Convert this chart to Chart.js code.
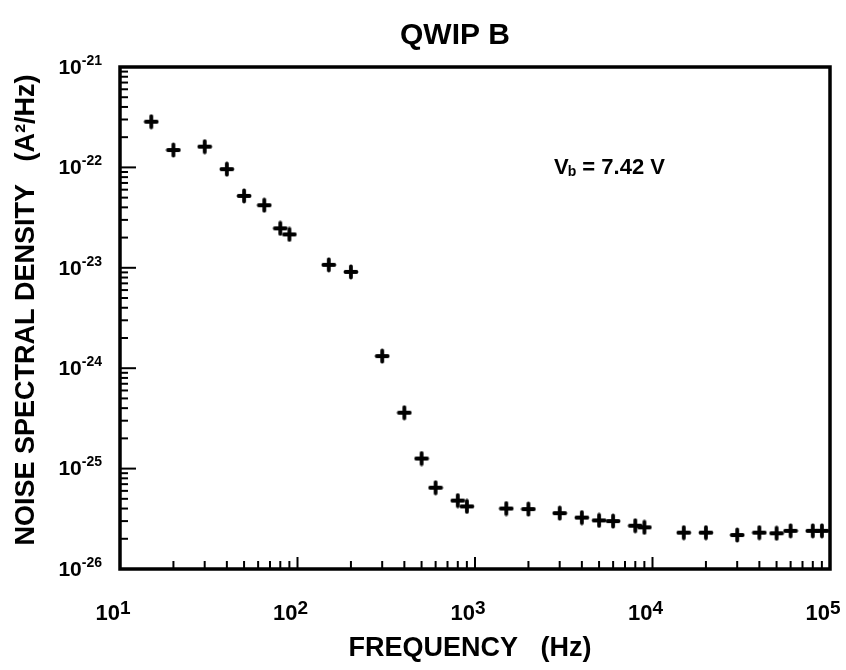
<!DOCTYPE html>
<html lang="en">
<head>
<meta charset="UTF-8" />
<title>QWIP B noise spectrum</title>
<script src="https://cdn.jsdelivr.net/npm/chart.js"></script>
<style>
  body { margin: 0; background: #fff; }
  #wrap { width: 846px; height: 670px; }
</style>
</head>
<body>
<div id="wrap"><canvas id="noise" width="846" height="670"></canvas></div>
<script>
  const freq = [15, 20, 30, 40, 50, 65, 80, 90, 150, 200, 300, 400, 500, 600, 800, 900,
                1500, 2000, 3000, 4000, 5000, 6000, 8000, 9000,
                15000, 20000, 30000, 40000, 50000, 60000, 80000, 90000];
  const nsd = [2.85e-22, 1.49e-22, 1.61e-22, 9.6e-23, 5.2e-23, 4.2e-23, 2.47e-23, 2.15e-23,
               1.07e-23, 9.1e-24, 1.32e-24, 3.6e-25, 1.26e-25, 6.45e-26, 4.8e-26, 4.2e-26,
               4.0e-26, 3.95e-26, 3.6e-26, 3.25e-26, 3.05e-26, 3.0e-26, 2.7e-26, 2.6e-26,
               2.3e-26, 2.3e-26, 2.18e-26, 2.3e-26, 2.27e-26, 2.4e-26, 2.4e-26, 2.4e-26];

  const xExps = [1, 2, 3, 4, 5];
  const yExps = [-21, -22, -23, -24, -25, -26];
  const chartTitle = 'QWIP B';
  const xTitle = 'FREQUENCY   (Hz)';
  const yTitle = 'NOISE SPECTRAL DENSITY   (A²/Hz)';
  const biasLabel = 'V';
  const biasSub = 'b';
  const biasValue = ' = 7.42 V';

  const FONT = '"Liberation Sans", Arial, sans-serif';

  // bold plus marker like the scanned one
  function makeMarker() {
    const c = document.createElement('canvas');
    c.width = 16; c.height = 16;
    const g = c.getContext('2d');
    const m = 8;
    g.strokeStyle = '#000';
    g.fillStyle = '#000';
    g.lineWidth = 3.8;
    g.lineCap = 'round';
    g.beginPath();
    g.moveTo(m - 5.5, m); g.lineTo(m + 5.5, m);
    g.moveTo(m, m - 5.5); g.lineTo(m, m + 5.5);
    g.stroke();
    g.beginPath();
    g.moveTo(m, m - 3.2); g.lineTo(m + 3.2, m); g.lineTo(m, m + 3.2); g.lineTo(m - 3.2, m);
    g.closePath();
    g.fill();
    return c;
  }

  function drawPow(ctx, x, y, exp, opt) {
    ctx.font = 'bold ' + opt.base + 'px ' + FONT;
    const wb = ctx.measureText('10').width;
    ctx.font = 'bold ' + opt.sup + 'px ' + FONT;
    const we = ctx.measureText(exp).width;
    let left;
    if (opt.align === 'right') left = x - wb - we;
    else left = x - wb; // base ends at the tick
    ctx.textAlign = 'left';
    ctx.textBaseline = 'middle';
    ctx.font = 'bold ' + opt.base + 'px ' + FONT;
    ctx.fillText('10', left, y);
    ctx.font = 'bold ' + opt.sup + 'px ' + FONT;
    ctx.fillText(exp, left + wb, y - opt.rise);
  }

  const frame = {
    id: 'frame',
    beforeDatasetsDraw(chart) {
      const { ctx, chartArea: a, scales: { x, y } } = chart;
      ctx.save();
      ctx.strokeStyle = '#000';
      ctx.fillStyle = '#000';

      // inward ticks on bottom axis
      ctx.lineWidth = 2;
      for (let e = xExps[0]; e <= xExps[xExps.length - 1]; e++) {
        for (let k = 1; k <= 9; k++) {
          const v = k * Math.pow(10, e);
          if (v > x.max) break;
          const px = x.getPixelForValue(v);
          const len = k === 1 ? 12 : 8;
          ctx.beginPath();
          ctx.moveTo(px, a.bottom);
          ctx.lineTo(px, a.bottom - len);
          ctx.stroke();
        }
      }
      // inward ticks on left axis
      for (let e = yExps[yExps.length - 1]; e <= yExps[0]; e++) {
        for (let k = 1; k <= 9; k++) {
          const v = k * Math.pow(10, e);
          if (v > y.max * 1.0001) break;
          const py = y.getPixelForValue(v);
          const len = k === 1 ? 16 : 8;
          ctx.beginPath();
          ctx.moveTo(a.left, py);
          ctx.lineTo(a.left + len, py);
          ctx.stroke();
        }
      }

      ctx.lineWidth = 3.5;
      ctx.strokeRect(a.left, a.top, a.right - a.left, a.bottom - a.top);

      // tick labels
      xExps.forEach(e => {
        drawPow(ctx, x.getPixelForValue(Math.pow(10, e)), 614, String(e),
          { base: 22, sup: 19, rise: 5, align: 'tick' });
      });
      yExps.forEach(e => {
        drawPow(ctx, 102, y.getPixelForValue(Math.pow(10, e)) + 1, String(e),
          { base: 21, sup: 14, rise: 7, align: 'right' });
      });

      // titles
      ctx.textAlign = 'center';
      ctx.textBaseline = 'middle';
      ctx.font = 'bold 30px ' + FONT;
      ctx.fillText(chartTitle, 455, 36);
      ctx.font = 'bold 27px ' + FONT;
      ctx.fillText(xTitle, 470, 649);
      ctx.save();
      ctx.translate(27, 310);
      ctx.rotate(-Math.PI / 2);
      ctx.fillText(yTitle, 0, 0);
      ctx.restore();

      // bias note
      ctx.textAlign = 'left';
      ctx.font = 'bold 22px ' + FONT;
      let bx = 554;
      ctx.fillText(biasLabel, bx, 168);
      bx += ctx.measureText(biasLabel).width - 1;
      ctx.font = 'bold 14px ' + FONT;
      ctx.fillText(biasSub, bx, 172);
      bx += ctx.measureText(biasSub).width;
      ctx.font = 'bold 22px ' + FONT;
      ctx.fillText(biasValue, bx, 168);

      ctx.restore();
    }
  };

  new Chart(document.getElementById('noise').getContext('2d'), {
    type: 'scatter',
    data: {
      datasets: [{
        data: freq.map((f, i) => ({ x: f, y: nsd[i] })),
        pointStyle: makeMarker(),
        pointRadius: 7,
        pointHoverRadius: 7
      }]
    },
    options: {
      responsive: false,
      animation: false,
      layout: { padding: { left: 120, top: 67, right: 16, bottom: 101 } },
      plugins: { legend: { display: false }, tooltip: { enabled: false } },
      scales: {
        x: { type: 'logarithmic', min: 10, max: 1e5, display: false },
        y: { type: 'logarithmic', min: 1e-26, max: 1e-21, display: false }
      }
    },
    plugins: [frame]
  });
</script>
</body>
</html>
